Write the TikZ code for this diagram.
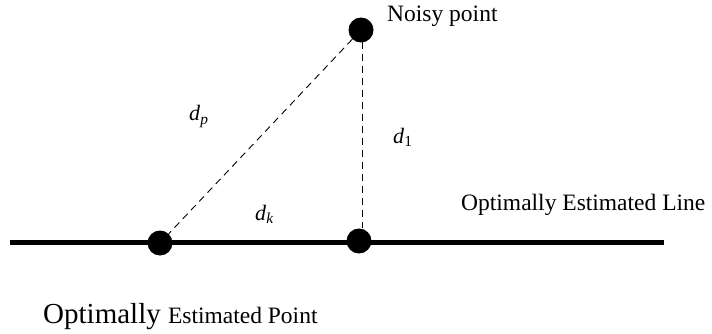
\documentclass[tikz,border=0pt]{standalone}
\usepackage{fontspec}
\setmainfont{Liberation Serif}
\newcommand{\dlab}[1]{\textit{d}\textsubscript{#1}}
\begin{document}
\begin{tikzpicture}[x=1pt,y=-1pt,
  dot/.style={circle,fill=black,inner sep=0pt,minimum size=25pt},
  dashline/.style={dash pattern=on 7pt off 5pt,line width=0.9pt},
  lbl/.style={font=\fontsize{23.5}{26}\selectfont,inner sep=0pt,anchor=base west},
  mlbl/.style={font=\fontsize{22}{24}\selectfont,inner sep=0pt,anchor=base west}]
\useasboundingbox (0,0) rectangle (712,334);
\coordinate (L1) at (10,242);
\coordinate (L2) at (664,242);
\draw[line width=5pt] (L1) -- (L2);
\node[dot] (np) at (361,30) {};
\node[dot] (ep) at (160,243) {};
\node[dot] (fp) at (359,241) {};
\draw[dashline] (np) -- (ep);
\coordinate (t) at (362,42);
\draw[dashline] (t) -- (t |- fp.north);
\node[lbl] (nl) at (387,22) {Noisy point};
\node[mlbl] (dp) at (189,121) {\dlab{\textit{p}}};
\node[mlbl] (d1) at (393,143) {\dlab{1}};
\node[mlbl] (dk) at (255,220) {\dlab{\textit{k}}};
\node[lbl] (ll) at (461,210) {Optimally Estimated Line};
\node[anchor=base west,inner sep=0pt] (pl) at (43,323) {\fontsize{29}{32}\selectfont Optimally \fontsize{23.5}{26}\selectfont Estimated Point};
\end{tikzpicture}
\end{document}
